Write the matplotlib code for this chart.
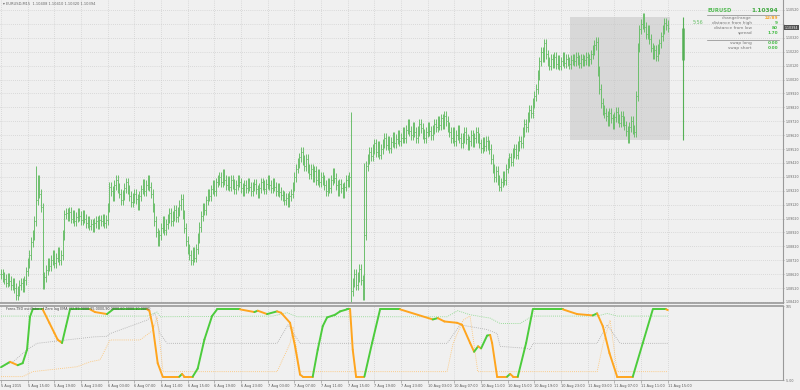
import numpy as np
import matplotlib.pyplot as plt
from matplotlib.lines import Line2D
from matplotlib.patches import Rectangle

# EURUSD M15 closes, in points above 1.08000 (5 Aug 11:00 .. 11 Aug 15:00)
closes = [620, 600, 585, 560, 590, 570, 540, 555, 520, 470, 500, 540, 560, 530, 575,
          640, 700, 760, 850, 900, 1000, 1150, 1300, 1200, 1100,
          550,
          600, 650, 700, 680, 720, 760, 700, 740, 780, 720, 760,
          900, 1050,
          1060, 1040, 1070, 1020, 1050, 1000, 1030, 1060, 1040, 1010, 1050, 1020, 990, 1000, 970,
          980, 960, 990, 1000, 980, 1010, 1000, 1020, 990, 1010,
          1100, 1250,
          1220, 1180, 1260, 1300, 1240, 1200, 1150, 1190, 1240, 1280, 1230, 1180, 1140, 1170, 1200,
          1160, 1120, 1180, 1230, 1270, 1220, 1260, 1300, 1250, 1200,
          1100, 1000, 920, 860, 900, 950, 1000, 940, 980,
          1020, 1060, 1000, 1040, 1080, 1030, 1070, 1120, 1160,
          1050, 950, 860, 800, 760, 720, 780, 740, 800,
          880, 960, 1040, 1100, 1080, 1150, 1200, 1180, 1230, 1260, 1220, 1280, 1300,
          1320, 1280, 1340, 1300, 1260, 1290, 1250, 1300, 1270, 1230, 1260, 1300, 1280, 1240, 1220,
          1260, 1240, 1280, 1250, 1220,
          1250, 1270, 1230, 1200, 1240, 1280, 1260, 1230, 1270, 1300, 1260, 1240, 1280, 1250, 1220,
          1240, 1210, 1190,
          1180, 1150, 1170, 1140, 1180, 1200,
          1250, 1320, 1380, 1420, 1460, 1500, 1440, 1400, 1450, 1380, 1340, 1380, 1320, 1360, 1300,
          1340, 1280, 1320,
          1300, 1260, 1220, 1280, 1240, 1300, 1350, 1310, 1260, 1220, 1270, 1240, 1200, 1250, 1300,
          1280, 1320,
          500, 560, 620, 540, 600, 660, 580, 470,
          900, 1400,
          1450, 1500, 1470, 1520, 1560, 1500, 1540, 1480, 1520, 1560, 1600, 1550, 1580, 1530, 1570,
          1610, 1560, 1590, 1620, 1580, 1600,
          1640, 1600, 1660, 1700, 1650, 1620, 1680, 1640, 1600, 1650, 1700, 1670, 1630, 1600, 1640,
          1680, 1650, 1620, 1660, 1700, 1680, 1720, 1690, 1740, 1700, 1760,
          1720, 1680, 1640, 1600, 1640, 1580, 1620, 1660, 1600, 1560, 1600, 1640, 1590, 1550, 1580,
          1620, 1570, 1600, 1640, 1600, 1560, 1530, 1570, 1540, 1580, 1550, 1520,
          1450, 1380, 1320, 1360, 1300, 1250, 1280, 1330, 1300, 1380,
          1420, 1460, 1430, 1490, 1520, 1480, 1540, 1580, 1560,
          1640, 1700, 1680, 1750, 1800, 1780, 1850, 1900, 1950,
          2050, 2150, 2220, 2180, 2280, 2200,
          2150, 2120, 2170, 2140, 2180, 2130, 2160, 2120, 2150, 2180, 2140, 2170, 2150, 2130, 2160,
          2170, 2150, 2180, 2160, 2140, 2170, 2150, 2160, 2180, 2150, 2170, 2200,
          2230, 2270, 2290,
          2080, 1950, 1850, 1800, 1780,
          1760, 1720, 1780, 1740, 1700, 1750, 1790, 1740, 1710, 1760, 1720, 1690,
          1650, 1600, 1680, 1720, 1660, 1640,
          1900, 2250, 2380,
          2420, 2460, 2400, 2350, 2380, 2310,
          2250, 2200, 2230, 2190, 2240, 2280,
          2330, 2380, 2430, 2410, 2394]

# bars whose high/low stretch well past open/close (bar index, high, low in points)
spike_bars = [21, 210, 218]
spike_hi = [1400, 1790, 1420]
spike_lo = [1120, 420, 450]

# oscillator (bar index, value) vertices
osc_i = [0, 5.4, 10, 13, 15.6, 17.4, 19, 25, 29, 32, 34, 36.6, 39, 41.4, 53.4, 56.4, 63.6, 67.2,
         87.6, 89, 91, 94, 97, 107, 108.6, 110, 115, 118, 122, 126.6, 129.6, 143.4, 152, 154,
         159.6, 165.6, 168, 173.4, 176.4, 179.4, 181, 187, 190, 193, 195.6, 200.4, 203.4, 207.6,
         209.4, 211, 213, 218, 222.6, 227.4, 239.4, 259, 262, 266, 273.6, 276.6, 281.4, 283.8,
         286.2, 288, 291.6, 293.4, 294.6, 297.6, 303.6, 305.4, 307.2, 310, 315, 319, 337, 345.6,
         355, 357.6, 361, 365, 369.6, 379, 385, 391, 399, 400]
osc_v = [14, 22, 17, 20, 40, 89, 100, 100, 80, 65, 55, 50, 75, 100, 100, 96, 93, 100,
         100, 98, 75, 20, 0, 0, 4, 0, 0, 12, 55, 90, 100, 100, 96, 98,
         93, 97, 95, 80, 45, 3, 0, 0, 40, 75, 88, 92, 97, 100,
         100, 40, 0, 0, 50, 100, 100, 85, 87, 82, 80, 77, 50, 37,
         45, 42, 61, 62, 50, 0, 0, 4, 0, 0, 50, 100, 100, 93,
         91, 94, 75, 35, 0, 0, 50, 100, 100, 99]

# dynamic levels (bar index, value)
up_i = [0, 87.6, 93.6, 95.4, 163, 171.6, 177.6, 267.6, 274, 281.4, 293.4, 299.4, 311.4, 318.6,
        357.6, 363.6, 369.6, 400]
up_v = [90, 90, 96, 89, 90, 95, 89, 89, 98, 92, 87, 79, 79, 90, 90, 94, 90, 90]
mid_i = [0, 7.2, 15.6, 21.6, 55.2, 63.6, 65.4, 87.6, 92.4, 95.4, 99.6, 165.6, 172.2, 179.4,
         267.6, 275.4, 291.6, 297.6, 299.4, 315.6, 317.4, 319.2, 357.6, 363.6, 371.4, 400]
mid_v = [15, 22, 40, 49.5, 59, 60, 64, 84, 94, 64, 49.5, 49.5, 77, 49.5,
         49.5, 77, 70, 64, 45, 42, 40, 49.5, 49.5, 77, 49.5, 49.5]
dn_i = [0, 13, 19, 45.6, 53.4, 59.4, 65.4, 83.4, 91.2, 93.6, 97.2, 165.6, 173.4, 175.2, 179.4,
        267.6, 271.2, 277.2, 281.4, 286, 357.6, 361.2, 365.4, 369.6, 400]
dn_v = [0, 0, 7.4, 14.7, 22, 25, 54.5, 54.5, 69, 89, 7.4, 7.4, 49.5, 74, 7.4,
        7.4, 49.5, 84, 90, 7.4, 7.4, 49.5, 84, 7.4, 7.4]

time_labels = ["5 Aug 2015", "5 Aug 15:00", "5 Aug 19:00", "5 Aug 23:00", "6 Aug 03:00",
               "6 Aug 07:00", "6 Aug 11:00", "6 Aug 15:00", "6 Aug 19:00", "6 Aug 23:00",
               "7 Aug 03:00", "7 Aug 07:00", "7 Aug 11:00", "7 Aug 15:00", "7 Aug 19:00",
               "7 Aug 23:00", "10 Aug 03:00", "10 Aug 07:00", "10 Aug 11:00", "10 Aug 15:00",
               "10 Aug 19:00", "10 Aug 23:00", "11 Aug 03:00", "11 Aug 07:00", "11 Aug 11:00",
               "11 Aug 15:00"]
price_ticks = [1.08420 + 0.001 * k for k in range(22)]
last_price = 1.10394

# rectangle and range line objects (bar index, price)
box_i = [341.3, 401.3]
box_p = [1.09582, 1.10468]
range_i = 409
range_p = [1.09582, 1.10468]
range_body = [1.10159, 1.10389]

info_rows = [("change/range", "22/89", "#f5a020"), ("distance from high", "9", "#44bb44"),
             ("distance from low", "80", "#44bb44"), ("spread", "1.70", "#44bb44")]
swap_rows = [("swap long", "0.00"), ("swap short", "0.00")]

BG = "#f0f0f0"
BAR = "#6cbf6c"
GRID = "#c4c4c4"
W, H = 800, 390

fig = plt.figure(figsize=(8, 3.9), dpi=100, facecolor=BG)


def fx(px):
    return px / W


def fy(py):
    return 1 - py / H


ax = fig.add_axes([0, fy(303), fx(783), 303 / H], facecolor=BG)
ax2 = fig.add_axes([0, fy(380), fx(783), 74 / H], facecolor=BG)

xl = (-0.6, 469.1)

# price bars
c = 1.08 + np.array(closes) / 1e5
o = np.r_[c[0], c[:-1]]
idx = np.arange(len(c))
WICK = 0.00035
hi = np.maximum(o, c) + WICK
lo = np.minimum(o, c) - WICK
hi[spike_bars] = np.maximum(hi[spike_bars], 1.08 + np.array(spike_hi) / 1e5)
lo[spike_bars] = np.minimum(lo[spike_bars], 1.08 + np.array(spike_lo) / 1e5)
ax.vlines(idx, lo, hi, color=BAR, lw=0.7)
ax.hlines(o, idx - 0.45, idx, color=BAR, lw=0.6)
ax.hlines(c, idx, idx + 0.45, color=BAR, lw=0.6)

ax.add_patch(Rectangle((box_i[0], box_p[0]), box_i[1] - box_i[0], box_p[1] - box_p[0],
                       facecolor="#d8d8d8", edgecolor="none", zorder=0))
ax.vlines(range_i, range_p[0], range_p[1], color="#55b055", lw=0.8)
ax.vlines(range_i, range_body[0], range_body[1], color="#55b055", lw=1.8)

ax.set_xlim(*xl)
ax.set_ylim(1.084128, 1.105919)
ax.set_xticks(np.arange(len(time_labels)) * 16)
ax.set_xticklabels([])
ax.yaxis.tick_right()
ax.set_yticks(price_ticks)
ax.set_yticklabels(["" if abs(p - last_price) < 0.0005 else f"{p:.5f}" for p in price_ticks],
                   fontsize=2.3, color="#666666")
ax.tick_params(axis="y", length=1, width=0.4, color="#888888", pad=0.8)
ax.tick_params(axis="x", length=0)
ax.grid(True, ls=(0, (1, 2)), color=GRID, lw=0.5)
ax.set_axisbelow(True)
for s in ["top", "left"]:
    ax.spines[s].set_visible(False)
ax.spines["right"].set_color("#999999")
ax.spines["bottom"].set_color("#999999")
ax.spines["bottom"].set_linewidth(1.2)
ax.spines["right"].set_linewidth(0.8)

# current price marker
ax.text(1.0025, last_price, f"{last_price:.5f}", transform=ax.get_yaxis_transform(),
        fontsize=2.3, color="white", va="center", ha="left",
        bbox=dict(boxstyle="square,pad=0.25", fc="#505050", ec="none"))

# oscillator panel
oi = np.array(osc_i)
ov = np.array(osc_v)
col = "#4ccc3c"
for k in range(len(oi) - 1):
    if ov[k + 1] > ov[k]:
        col = "#4ccc3c"
    elif ov[k + 1] < ov[k]:
        col = "#ffa51e"
    ax2.plot(oi[k:k + 2], ov[k:k + 2], color=col, lw=1.4, solid_capstyle="round", zorder=3)
ax2.plot(up_i, up_v, color="#7fd67f", lw=0.6, ls=(0, (1, 1.5)), zorder=2)
ax2.plot(mid_i, mid_v, color="#a8a8a8", lw=0.6, ls=(0, (1, 1.5)), zorder=2)
ax2.plot(dn_i, dn_v, color="#ffbf66", lw=0.6, ls=(0, (1, 1.5)), zorder=2)

ax2.set_xlim(*xl)
ax2.set_ylim(-5, 105)
ax2.set_xticks(np.arange(len(time_labels)) * 16)
ax2.set_xticklabels(time_labels, fontsize=2.5, color="#555555", ha="left")
ax2.tick_params(axis="x", length=2, width=0.4, color="#888888", pad=1)
ax2.yaxis.tick_right()
ax2.set_yticks([105, -5])
ax2.set_yticklabels(["105", "-5.00"], fontsize=2.3, color="#666666")
ax2.tick_params(axis="y", length=1, width=0.4, color="#888888", pad=0.8)
ax2.grid(True, axis="x", ls=(0, (1, 2)), color=GRID, lw=0.5)
ax2.set_axisbelow(True)
ax2.spines["left"].set_visible(False)
for s in ["top", "right", "bottom"]:
    ax2.spines[s].set_color("#999999")
ax2.spines["top"].set_linewidth(1.2)
ax2.spines["right"].set_linewidth(0.8)
ax2.spines["bottom"].set_linewidth(0.6)

ax2.text(3, 103, "Forex-TSD oscillator of Zero lag EMA (32,89.0000,95.0000,90.0000,60.0000,10.0000)",
         fontsize=2.4, color="#444444", va="top", ha="left")

# header
fig.text(fx(3), fy(4), "\u25be EURUSD,M15  1.10408 1.10410 1.10320 1.10394", fontsize=2.6,
         color="#666666", va="center", ha="left")

# info panel
fig.text(fx(693), fy(23), "5:56", fontsize=3.4, color="#66c066", va="center", ha="left")
fig.text(fx(707), fy(10), "EURUSD", fontsize=3.8, color="#55bb55", weight="bold", va="center")
fig.text(fx(778), fy(10), "1.10394", fontsize=4.2, color="#44aa44", weight="bold",
         va="center", ha="right")
fig.add_artist(Line2D([fx(707), fx(779)], [fy(14.5), fy(14.5)], color="#888888", lw=0.5))
for k, (lab, val, vc) in enumerate(info_rows):
    y = 18 + k * 5
    fig.text(fx(752), fy(y), lab, fontsize=3.1, color="#777777", va="center", ha="right")
    fig.text(fx(778), fy(y), val, fontsize=3.1, color=vc, va="center", ha="right", weight="bold")
fig.add_artist(Line2D([fx(707), fx(779)], [fy(40), fy(40)], color="#888888", lw=0.5))
for k, (lab, val) in enumerate(swap_rows):
    y = 43 + k * 5
    fig.text(fx(752), fy(y), lab, fontsize=3.1, color="#777777", va="center", ha="right")
    fig.text(fx(778), fy(y), val, fontsize=3.1, color="#44bb44", va="center", ha="right",
             weight="bold")

fig.savefig("out.png", dpi=100, facecolor=BG)
